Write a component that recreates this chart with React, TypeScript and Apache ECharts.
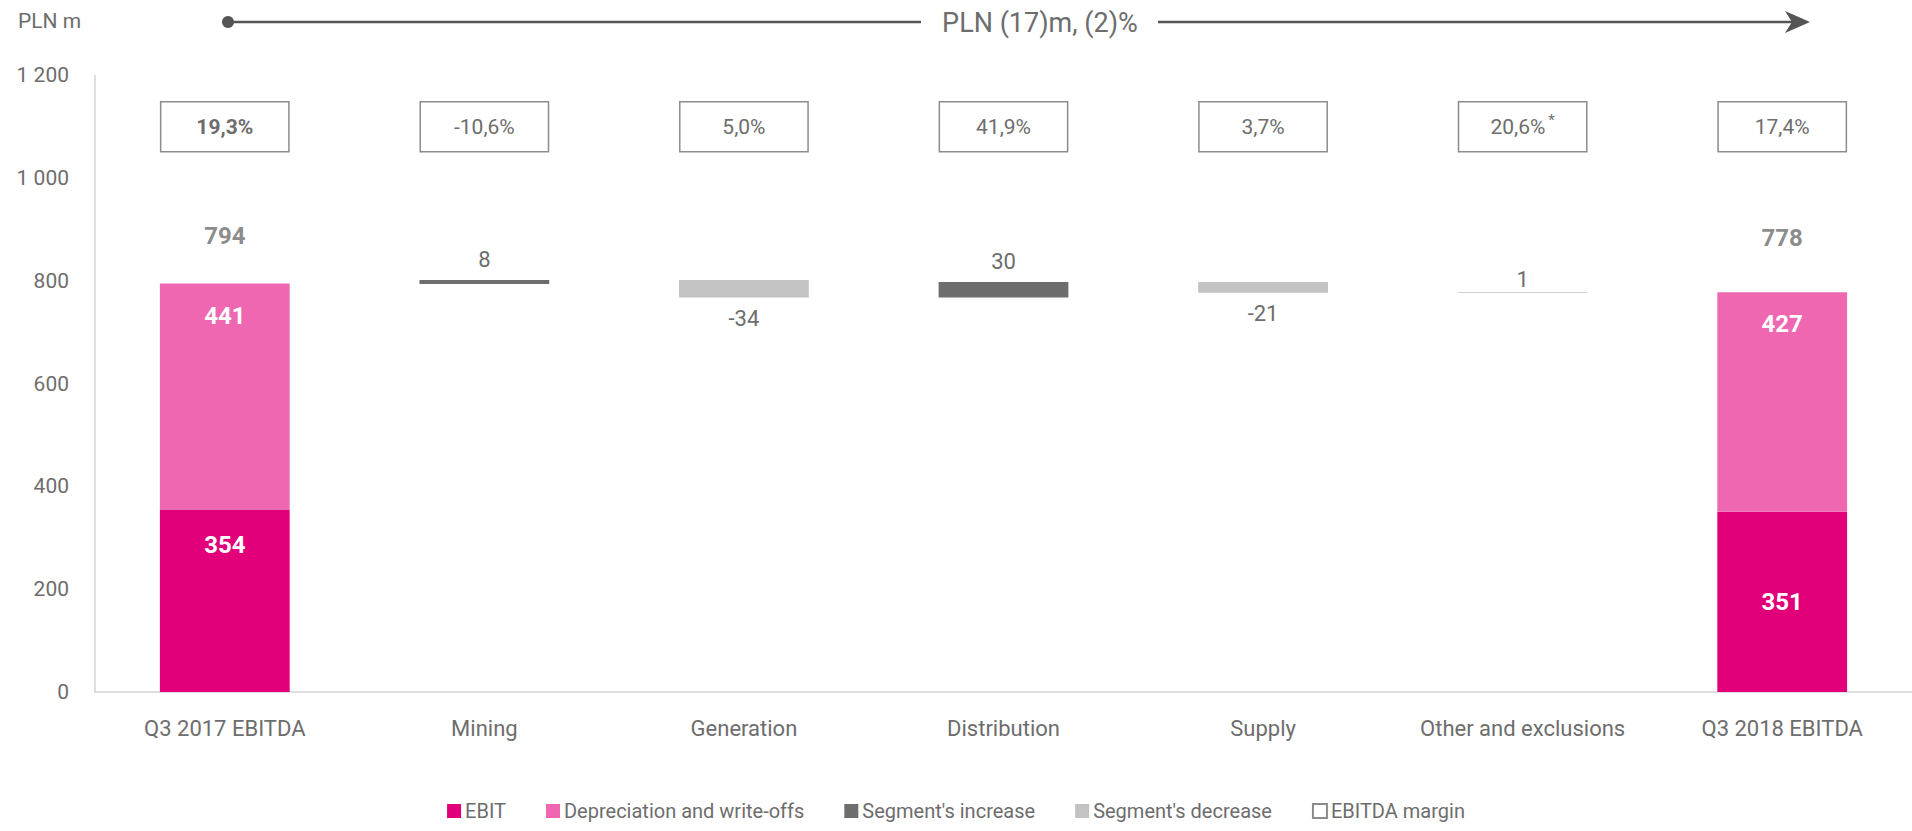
import React, { useEffect, useRef } from "react";
import * as echarts from "echarts";

const categories = [
  "Q3 2017 EBITDA",
  "Mining",
  "Generation",
  "Distribution",
  "Supply",
  "Other and exclusions",
  "Q3 2018 EBITDA",
];
const ebit = [354, null, null, null, null, null, 351];
const depreciation = [441, null, null, null, null, null, 427];
const totals = [794, null, null, null, null, null, 778];
// segment changes (positive = increase, negative = decrease)
const changes = [null, 8, -34, 30, -21, 1, null];
const margins = ["19,3%", "-10,6%", "5,0%", "41,9%", "3,7%", "20,6%", "17,4%"];
const marginNote = [false, false, false, false, false, true, false];
const yTicks = [0, 200, 400, 600, 800, 1000, 1200];

const GRAY = "#6d6d6d";
const FONT = "Roboto";

export default function App() {
  const ref = useRef<HTMLDivElement>(null);

  useEffect(() => {
    if (!ref.current) return;
    const chart = echarts.init(ref.current, null, { renderer: "svg" });

    // waterfall base computed from the running total
    const base: (number | null)[] = [];
    const inc: (number | null)[] = [];
    const dec: (number | null)[] = [];
    let running = totals[0] as number;
    categories.forEach((_, i) => {
      const c = changes[i];
      if (c === null) {
        base.push(0);
        inc.push(null);
        dec.push(null);
      } else if (c >= 0) {
        base.push(running);
        inc.push(c);
        dec.push(null);
        running += c;
      } else {
        running += c;
        base.push(running);
        inc.push(null);
        dec.push(-c);
      }
    });

    const BOX_BOTTOM = 1050;
    const BOX_HEIGHT = 100;

    const barCommon = {
      type: "bar" as const,
      barWidth: "50%",
      barGap: "-100%",
      silent: true,
    };

    const option: any = {
      animation: false,
      textStyle: { fontFamily: FONT },
      grid: { left: 95, top: 75.4, width: 1830, bottom: 139 },
      xAxis: {
        type: "category",
        data: categories,
        axisLine: { show: true, lineStyle: { color: "#d4d4d4", width: 1.5 } },
        axisTick: { show: false },
        axisLabel: { color: GRAY, fontSize: 22, margin: 25, fontFamily: FONT, interval: 0 },
      },
      yAxis: {
        type: "value",
        min: 0,
        max: 1200,
        interval: 200,
        axisLine: { show: true, lineStyle: { color: "#d4d4d4", width: 1.5 } },
        axisTick: { show: false },
        splitLine: { show: false },
        axisLabel: {
          color: GRAY,
          fontSize: 21,
          margin: 26,
          fontFamily: FONT,
          formatter: (v: number) =>
            yTicks.includes(v) ? String(v).replace(/\B(?=(\d{3})+(?!\d))/g, " ") : "",
        },
      },
      legend: {
        data: [
          "EBIT",
          "Depreciation and write-offs",
          "Segment's increase",
          "Segment's decrease",
          "EBITDA margin",
        ],
        top: 801,
        left: "center",
        icon: "rect",
        itemWidth: 14,
        itemHeight: 14,
        itemGap: 40,
        padding: 0,
        textStyle: { color: GRAY, fontSize: 20, fontFamily: FONT, padding: [0, 0, 0, -1] },
        selectedMode: false,
      },
      graphic: [
        {
          type: "text",
          left: 18,
          top: 10,
          style: { text: "PLN m", fill: GRAY, fontSize: 21, fontFamily: FONT },
        },
        {
          type: "circle",
          shape: { cx: 228, cy: 22, r: 6 },
          style: { fill: "#555555" },
        },
        {
          type: "line",
          shape: { x1: 228, y1: 22, x2: 921, y2: 22 },
          style: { stroke: "#555555", lineWidth: 2.5 },
        },
        {
          type: "text",
          x: 1040,
          y: 23,
          style: {
            text: "PLN (17)m, (2)%",
            fill: GRAY,
            fontSize: 27,
            fontFamily: FONT,
            align: "center",
            verticalAlign: "middle",
          },
        },
        {
          type: "line",
          shape: { x1: 1158, y1: 22, x2: 1795, y2: 22 },
          style: { stroke: "#555555", lineWidth: 2.5 },
        },
        {
          type: "polygon",
          shape: {
            points: [
              [1810, 22],
              [1785, 11],
              [1792, 22],
              [1785, 33],
            ],
          },
          style: { fill: "#555555" },
        },
      ],
      series: [
        {
          ...barCommon,
          name: "base",
          stack: "w",
          data: base,
          itemStyle: { color: "transparent" },
        },
        {
          ...barCommon,
          name: "EBIT",
          stack: "w",
          itemStyle: { color: "#e2007a" },
          data: ebit.map((v, i) =>
            v === null
              ? null
              : {
                  value: v,
                  label:
                    i === 0
                      ? { position: "insideTop", distance: 23 }
                      : { position: "inside" },
                }
          ),
          label: {
            show: true,
            color: "#ffffff",
            fontSize: 24,
            fontWeight: "bold",
            fontFamily: FONT,
          },
        },
        {
          ...barCommon,
          name: "Depreciation and write-offs",
          stack: "w",
          itemStyle: { color: "#ee67b0" },
          data: depreciation,
          label: {
            show: true,
            position: "insideTop",
            distance: 20,
            color: "#ffffff",
            fontSize: 24,
            fontWeight: "bold",
            fontFamily: FONT,
          },
        },
        {
          ...barCommon,
          name: "Segment's increase",
          stack: "w",
          itemStyle: { color: "#6d6d6d" },
          data: inc.map((v) =>
            v === null
              ? null
              : {
                  value: v,
                  label: v < 3 ? { distance: 2 } : {},
                  itemStyle: v < 3 ? { color: "#a8a8a8" } : {},
                }
          ),
          label: {
            show: true,
            position: "top",
            distance: 9,
            color: GRAY,
            fontSize: 22,
            fontFamily: FONT,
          },
        },
        {
          ...barCommon,
          name: "Segment's decrease",
          stack: "w",
          itemStyle: { color: "#c3c3c3" },
          data: dec,
          label: {
            show: true,
            position: "bottom",
            distance: 10,
            color: GRAY,
            fontSize: 22,
            fontFamily: FONT,
            formatter: (p: any) => "-" + p.value,
          },
        },
        {
          type: "scatter",
          name: "total",
          symbolSize: 0,
          silent: true,
          data: totals.map((v, i) =>
            v === null ? null : { value: v, label: { distance: i === 0 ? 36 : 42 } }
          ),
          label: {
            show: true,
            position: "top",
            color: GRAY,
            fontSize: 24,
            fontWeight: "bold",
            fontFamily: FONT,
          },
        },
        {
          ...barCommon,
          name: "marginBase",
          stack: "m",
          data: categories.map(() => BOX_BOTTOM),
          itemStyle: { color: "transparent" },
        },
        {
          ...barCommon,
          name: "EBITDA margin",
          stack: "m",
          data: categories.map(() => BOX_HEIGHT),
          itemStyle: { color: "#ffffff", borderColor: "#8c8c8c", borderWidth: 1.5 },
          label: {
            show: true,
            position: "inside",
            formatter: (p: any) => {
              const t = margins[p.dataIndex];
              const style = p.dataIndex === 0 ? "b" : "n";
              return marginNote[p.dataIndex] ? `{${style}|${t}} {sup|*}` : `{${style}|${t}}`;
            },
            rich: {
              b: { color: GRAY, fontSize: 21, fontWeight: "bold", fontFamily: FONT },
              n: { color: GRAY, fontSize: 21, fontFamily: FONT },
              sup: {
                color: GRAY,
                fontSize: 15,
                fontFamily: FONT,
                verticalAlign: "top",
                padding: [0, 0, 14, 0],
              },
            },
          },
        },
      ],
    };

    chart.setOption(option);
    return () => chart.dispose();
  }, []);

  return (
    <div
      ref={ref}
      style={{ position: "fixed", left: 0, top: 0, width: 1912, height: 831, background: "#fff" }}
    />
  );
}
